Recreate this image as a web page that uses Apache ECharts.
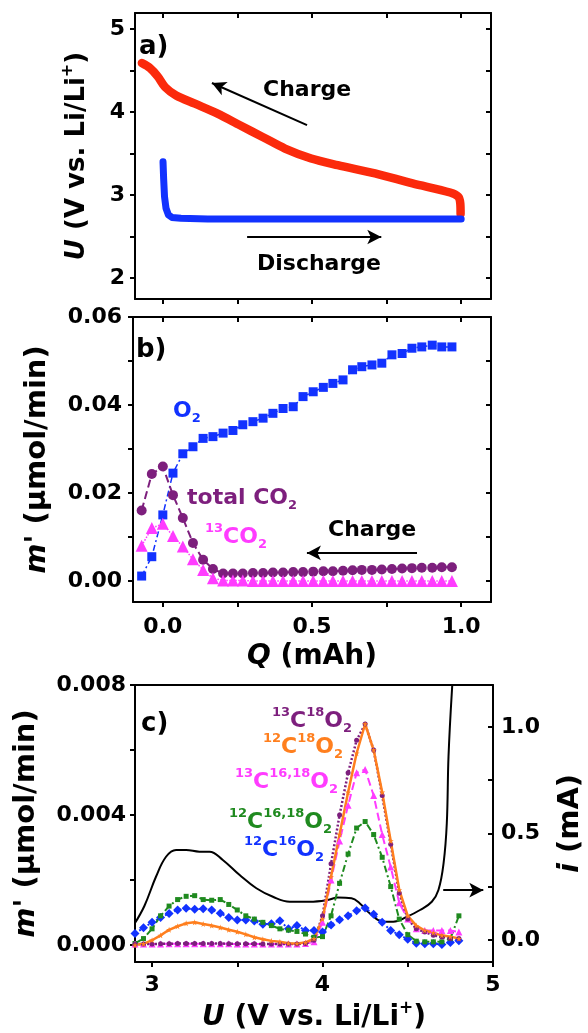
<!DOCTYPE html>
<html>
<head>
<meta charset="utf-8">
<script src="https://cdn.jsdelivr.net/npm/echarts@6/dist/echarts.min.js"></script>
<style>
  html, body { margin: 0; padding: 0; background: #fff; }
  #chart { width: 588px; height: 1033px; }
</style>
</head>
<body>
<div id="chart"></div>
<script>
// ---- a) galvanostatic curves, Q (mAh) vs U (V)
var chargeQ = [-0.071, -0.044, -0.018, 0.007, 0.044, 0.107, 0.183, 0.258, 0.334, 0.409, 0.497, 0.586, 0.711, 0.837, 0.963, 0.99, 0.997, 0.998];
var chargeU = [4.59, 4.53, 4.43, 4.30, 4.20, 4.10, 3.98, 3.84, 3.70, 3.56, 3.44, 3.36, 3.26, 3.14, 3.03, 2.98, 2.90, 2.77];
var dischargeQ = [0.0, 0.002, 0.005, 0.01, 0.018, 0.03, 0.06, 0.15, 0.3, 0.5, 0.7, 0.9, 1.0];
var dischargeU = [3.40, 3.20, 2.98, 2.84, 2.76, 2.73, 2.72, 2.71, 2.71, 2.71, 2.71, 2.71, 2.71];

// ---- b) gas evolution during charge vs Q (mAh)
var qGas = [-0.071, -0.037, 0.0, 0.034, 0.067, 0.101, 0.135, 0.168, 0.202, 0.235, 0.268, 0.302, 0.336, 0.369, 0.403, 0.437,
            0.470, 0.504, 0.538, 0.570, 0.604, 0.636, 0.667, 0.701, 0.734, 0.768, 0.802, 0.835, 0.868, 0.903, 0.935, 0.969];
var o2Rate = [0.0011, 0.0055, 0.015, 0.0245, 0.0289, 0.0305, 0.0324, 0.0328, 0.0336, 0.0342, 0.0355, 0.0362, 0.0370, 0.0381, 0.0392, 0.0396,
              0.0419, 0.0430, 0.0440, 0.0449, 0.0457, 0.0480, 0.0487, 0.0491, 0.0495, 0.0514, 0.0517, 0.0529, 0.0532, 0.0536, 0.0532, 0.0532];
var co2TotalRate = [0.016, 0.0243, 0.026, 0.0195, 0.0143, 0.0086, 0.0048, 0.0027, 0.0017, 0.0017, 0.0017, 0.0018, 0.0018, 0.0019, 0.0019, 0.0020,
                    0.0020, 0.0021, 0.0022, 0.0022, 0.0023, 0.0024, 0.0025, 0.0025, 0.0026, 0.0027, 0.0028, 0.0029, 0.0030, 0.0030, 0.0031, 0.0031];
var co2C13Rate = [0.008, 0.012, 0.013, 0.0102, 0.0078, 0.0049, 0.0025, 0.0006, 0.0001, 0.0001, 0.0001, 0.0, 0.0, 0.0, 0.0, 0.0,
                  0.0, 0.0, 0.0, 0.0, 0.0, 0.0, 0.0, 0.0, 0.0, 0.0, 0.0, 0.0, 0.0, 0.0, 0.0, 0.0];

// ---- c) isotopologues vs U (V), current on right axis
var uGrid = [2.90, 2.95, 3.00, 3.05, 3.10, 3.15, 3.20, 3.25, 3.30, 3.35, 3.40, 3.45, 3.50, 3.55, 3.60, 3.65, 3.70, 3.75, 3.80, 3.85,
             3.90, 3.95, 4.00, 4.05, 4.10, 4.15, 4.20, 4.25, 4.30, 4.35, 4.40, 4.45, 4.50, 4.55, 4.60, 4.65, 4.70, 4.75, 4.80];
var c13o18 = [0.00003, 0.00003, 0.00003, 0.00004, 0.00004, 0.00005, 0.00005, 0.00005, 0.00005, 0.00005, 0.00005, 0.00004, 0.00004, 0.00004, 0.00004, 0.00003, 0.00003, 0.00003, 0.00003, 0.00003,
              0.00005, 0.00015, 0.0009, 0.0025, 0.0040, 0.0053, 0.0063, 0.0068, 0.0060, 0.0046, 0.0031, 0.0016, 0.0008, 0.0005, 0.0004, 0.0003, 0.00025, 0.0002, 0.0002];
var c12o18 = [0.0, 0.00004, 0.00015, 0.0003, 0.00047, 0.00058, 0.00067, 0.0007, 0.00065, 0.0006, 0.00054, 0.00047, 0.00041, 0.00033, 0.00024, 0.00018, 0.00013, 0.0001, 0.00006, 0.00005,
              0.00008, 0.0002, 0.0008, 0.0021, 0.0034, 0.0047, 0.0059, 0.0068, 0.0060, 0.0047, 0.0032, 0.0017, 0.0009, 0.0006, 0.00045, 0.00038, 0.0003, 0.00026, 0.0002];
var c13o1618 = [0.00003, 0.00003, 0.00003, 0.00003, 0.00004, 0.00004, 0.00004, 0.00004, 0.00004, 0.00004, 0.00004, 0.00004, 0.00003, 0.00003, 0.00003, 0.00003, 0.00003, 0.00003, 0.00003, 0.00003,
                0.00005, 0.0001, 0.0007, 0.0020, 0.0032, 0.0043, 0.0053, 0.0054, 0.0046, 0.0034, 0.0024, 0.0013, 0.0008, 0.0005, 0.00045, 0.00045, 0.00045, 0.00045, 0.0004];
var c12o1618 = [0.00005, 0.0002, 0.0005, 0.0009, 0.0012, 0.0014, 0.0015, 0.00152, 0.0014, 0.00138, 0.0014, 0.00125, 0.00108, 0.0009, 0.0008, 0.0007, 0.0006, 0.0005, 0.00046, 0.00042,
                0.00034, 0.00024, 0.00026, 0.0009, 0.0019, 0.0028, 0.0036, 0.0038, 0.0034, 0.0027, 0.0018, 0.0008, 0.00032, 0.00012, 0.0001, 0.0001, 0.0001, 0.0002, 0.0009];
var c12o16 = [0.00036, 0.00053, 0.0007, 0.00085, 0.00097, 0.00108, 0.00113, 0.0011, 0.00112, 0.00108, 0.00098, 0.00085, 0.00077, 0.00077, 0.00074, 0.00064, 0.00066, 0.00075, 0.0005, 0.0006,
              0.00045, 0.00045, 0.0004, 0.00062, 0.00078, 0.0009, 0.00106, 0.00114, 0.00095, 0.0007, 0.00045, 0.00032, 0.00018, 0.00006, 0.00004, 0.00004, 0.00002, 0.00008, 0.00013];
var currentU = [2.896, 2.955, 3.023, 3.082, 3.141, 3.2, 3.278, 3.337, 3.415, 3.514, 3.612, 3.709, 3.808, 3.866, 3.925, 4.03,
                4.09, 4.17, 4.219, 4.278, 4.356, 4.415, 4.494, 4.572, 4.641, 4.68, 4.71, 4.729, 4.739, 4.759, 4.78];
var currentI = [0.075, 0.16, 0.297, 0.391, 0.423, 0.423, 0.415, 0.415, 0.376, 0.305, 0.243, 0.203, 0.180, 0.180, 0.180, 0.188,
                0.200, 0.196, 0.172, 0.125, 0.086, 0.086, 0.109, 0.141, 0.180, 0.235, 0.36, 0.548, 0.861, 1.17, 1.4];

var FONT = "DejaVu Sans";
var BLACK = "#000";

function pairs(xs, ys) {
  return xs.map(function (x, k) { return [x, ys[k]]; });
}

function richSet(size, color) {
  var lh = Math.round(size * 1.3);
  var small = Math.round(size * 0.6);
  return {
    i: { fontFamily: FONT, fontWeight: "bold", fontStyle: "italic", fontSize: size, color: color, lineHeight: lh },
    m: { fontFamily: FONT, fontWeight: "bold", fontSize: size, color: color, lineHeight: lh },
    sup: { fontFamily: FONT, fontWeight: "bold", fontSize: small, color: color, verticalAlign: "top", lineHeight: small + 2 },
    sub: { fontFamily: FONT, fontWeight: "bold", fontSize: small, color: color, verticalAlign: "bottom", lineHeight: small + 2 }
  };
}

function nameStyle(size) {
  return { fontFamily: FONT, fontWeight: "bold", fontSize: size, color: BLACK, lineHeight: Math.round(size * 1.3), rich: richSet(size, BLACK) };
}

// one axis of a framed panel
function axis(gridIndex, position, min, max, ticks, inside, labels, fmt, margin) {
  return {
    type: "value", gridIndex: gridIndex, position: position, min: min, max: max,
    axisLine: { show: true, onZero: false, lineStyle: { color: BLACK, width: 2 } },
    axisTick: { show: ticks.length > 0, inside: inside, length: 5, customValues: ticks, lineStyle: { color: BLACK, width: 2 } },
    axisLabel: labels ? {
      show: true, customValues: labels, margin: margin, formatter: fmt,
      fontFamily: FONT, fontWeight: "bold", fontSize: 22, color: BLACK
    } : { show: false },
    splitLine: { show: false }
  };
}

function fix(n) { return function (v) { return v.toFixed(n); }; }

var qTicks = [0, 0.25, 0.5, 0.75, 1.0];
var xAxes = [
  axis(0, "bottom", -0.094, 1.1, qTicks, false),
  axis(0, "top", -0.094, 1.1, qTicks, true),
  Object.assign(axis(1, "bottom", -0.1, 1.1, qTicks, false, [0, 0.5, 1.0], fix(1), 14),
    { name: "{i|Q} (mAh)", nameLocation: "middle", nameGap: 37, nameTextStyle: nameStyle(28) }),
  axis(1, "top", -0.1, 1.1, qTicks, true),
  Object.assign(axis(2, "bottom", 2.9, 5.0, [3, 3.5, 4, 4.5, 5], false, [3, 4, 5], fix(0), 12),
    { name: "{i|U} (V vs. Li/Li{sup|+})", nameLocation: "middle", nameGap: 38, nameTextStyle: nameStyle(28) }),
  axis(2, "top", 2.9, 5.0, [], true)
];

var uTicksA = [2, 2.5, 3, 3.5, 4, 4.5, 5];
var mTicksB = [0, 0.01, 0.02, 0.03, 0.04, 0.05, 0.06];
var mTicksC = [0, 0.002, 0.004, 0.006, 0.008];
var iTicks = [0, 0.25, 0.5, 0.75, 1.0];
var yAxes = [
  Object.assign(axis(0, "left", 1.747, 5.193, uTicksA, false, [2, 3, 4, 5], fix(0), 10),
    { name: "{i|U} (V vs. Li/Li{sup|+})", nameLocation: "middle", nameGap: 41, nameRotate: 90, nameTextStyle: nameStyle(26) }),
  axis(0, "right", 1.747, 5.193, uTicksA, true),
  Object.assign(axis(1, "left", -0.0048, 0.06, mTicksB, false, [0, 0.02, 0.04, 0.06], fix(2), 11),
    { name: "{i|m'} (µmol/min)", nameLocation: "middle", nameGap: 75, nameRotate: 90, nameTextStyle: nameStyle(29) }),
  axis(1, "right", -0.0048, 0.06, mTicksB, true),
  Object.assign(axis(2, "left", -0.00052, 0.008, mTicksC, false, [0, 0.004, 0.008], fix(3), 9),
    { name: "{i|m'} (µmol/min)", nameLocation: "middle", nameGap: 80, nameRotate: 90, nameTextStyle: nameStyle(29) }),
  Object.assign(axis(2, "right", -0.103, 1.197, iTicks, true, [0, 0.5, 1.0], fix(1), 8),
    { name: "{i|i} (mA)", nameLocation: "middle", nameGap: 58, nameRotate: 90, nameTextStyle: nameStyle(29) })
];

function arrow(from, to) {
  return {
    silent: true, symbol: ["none", "arrow"], symbolSize: [11, 14], animation: false,
    label: { show: false },
    lineStyle: { color: BLACK, width: 2, type: "solid" },
    data: [[{ coord: from }, { coord: to }]]
  };
}

function text(x, y, str, color, size, align) {
  return {
    type: "text", x: x, y: y, z: 100,
    style: {
      text: str, fill: color, fontFamily: FONT, fontWeight: "bold", fontSize: size,
      font: "bold " + size + "px '" + FONT + "'",
      align: align || "left", textAlign: align || "left",
      verticalAlign: "middle", textVerticalAlign: "middle",
      rich: richSet(size, color)
    }
  };
}

var STAR = "path://M50,0 L61,35 L98,35 L68,57 L79,91 L50,70 L21,91 L32,57 L2,35 L39,35 Z";
var RED = "#fb2a0c", BLUE = "#1232ff", PURPLE = "#7d1f7d", MAGENTA = "#ff3cff", ORANGE = "#ff7f1e", GREEN = "#1f8a1f";

var option = {
  animation: false,
  backgroundColor: "#fff",
  grid: [
    { left: 135, top: 13, width: 356, height: 286, outerBoundsMode: "none", containLabel: false },
    { left: 133, top: 317, width: 358, height: 285, outerBoundsMode: "none", containLabel: false },
    { left: 135, top: 685, width: 358, height: 277, outerBoundsMode: "none", containLabel: false }
  ],
  xAxis: xAxes,
  yAxis: yAxes,
  series: [
    // a)
    { type: "line", name: "charge", xAxisIndex: 0, yAxisIndex: 0, data: pairs(chargeQ, chargeU), showSymbol: false, smooth: 0.3,
      lineStyle: { color: RED, width: 8.5, cap: "round", join: "round" },
      markLine: arrow([0.483, 3.843], [0.164, 4.35]) },
    { type: "line", name: "discharge", xAxisIndex: 0, yAxisIndex: 0, data: pairs(dischargeQ, dischargeU), showSymbol: false,
      lineStyle: { color: BLUE, width: 7, cap: "round", join: "round" },
      markLine: arrow([0.282, 2.494], [0.732, 2.494]) },
    // b)
    { type: "line", name: "O2", xAxisIndex: 2, yAxisIndex: 2, data: pairs(qGas, o2Rate), symbol: "rect", symbolSize: 9,
      itemStyle: { color: BLUE }, lineStyle: { color: BLUE, width: 1.5, type: [6, 3, 2, 3] },
      markLine: arrow([0.852, 0.00636], [0.483, 0.00636]) },
    { type: "line", name: "total CO2", xAxisIndex: 2, yAxisIndex: 2, data: pairs(qGas, co2TotalRate), symbol: "circle", symbolSize: 10,
      itemStyle: { color: PURPLE }, lineStyle: { color: PURPLE, width: 2, type: [8, 4] } },
    { type: "line", name: "13CO2", xAxisIndex: 2, yAxisIndex: 2, data: pairs(qGas, co2C13Rate), symbol: "triangle", symbolSize: 12,
      itemStyle: { color: MAGENTA }, lineStyle: { color: MAGENTA, width: 1.5, type: "dotted" } },
    // c)
    { type: "line", name: "i", xAxisIndex: 4, yAxisIndex: 5, data: pairs(currentU, currentI), showSymbol: false, smooth: 0.4,
      lineStyle: { color: BLACK, width: 2 } },
    { type: "line", name: "12C16O2", xAxisIndex: 4, yAxisIndex: 4, data: pairs(uGrid, c12o16), symbol: "diamond", symbolSize: 9,
      itemStyle: { color: BLUE }, lineStyle: { color: BLUE, width: 2, type: [2, 3] },
      markLine: arrow([4.708, 0.00169], [4.943, 0.00169]) },
    { type: "line", name: "12C16,18O2", xAxisIndex: 4, yAxisIndex: 4, data: pairs(uGrid, c12o1618), symbol: "rect", symbolSize: 5,
      itemStyle: { color: GREEN }, lineStyle: { color: GREEN, width: 2, type: [7, 3, 2, 3] } },
    { type: "line", name: "13C16,18O2", xAxisIndex: 4, yAxisIndex: 4, data: pairs(uGrid, c13o1618), symbol: "triangle", symbolSize: 7,
      itemStyle: { color: MAGENTA }, lineStyle: { color: MAGENTA, width: 2, type: [8, 4] } },
    { type: "line", name: "13C18O2", xAxisIndex: 4, yAxisIndex: 4, data: pairs(uGrid, c13o18), symbol: "circle", symbolSize: 5,
      itemStyle: { color: PURPLE }, lineStyle: { color: PURPLE, width: 2.5, type: [2, 2] } },
    { type: "line", name: "12C18O2", xAxisIndex: 4, yAxisIndex: 4, data: pairs(uGrid, c12o18), symbol: STAR, symbolSize: 6,
      itemStyle: { color: ORANGE }, lineStyle: { color: ORANGE, width: 2.5 } }
  ],
  graphic: [
    text(139, 47, "a)", BLACK, 26),
    text(263, 90, "Charge", BLACK, 22),
    text(257, 264, "Discharge", BLACK, 22),
    text(136, 350, "b)", BLACK, 26),
    text(173, 411, "{m|O}{sub|2}", BLUE, 22),
    text(187, 498, "{m|total CO}{sub|2}", PURPLE, 22),
    text(205, 537, "{sup|13}{m|CO}{sub|2}", MAGENTA, 22),
    text(328, 530, "Charge", BLACK, 22),
    text(141, 724, "c)", BLACK, 26),
    text(352, 721, "{sup|13}{m|C}{sup|18}{m|O}{sub|2}", PURPLE, 22, "right"),
    text(343, 747, "{sup|12}{m|C}{sup|18}{m|O}{sub|2}", ORANGE, 22, "right"),
    text(338, 782, "{sup|13}{m|C}{sup|16,18}{m|O}{sub|2}", MAGENTA, 22, "right"),
    text(332, 822, "{sup|12}{m|C}{sup|16,18}{m|O}{sub|2}", GREEN, 22, "right"),
    text(324, 850, "{sup|12}{m|C}{sup|16}{m|O}{sub|2}", BLUE, 22, "right")
  ]
};

var chart = echarts.init(document.getElementById("chart"));
chart.setOption(option);
</script>
</body>
</html>
